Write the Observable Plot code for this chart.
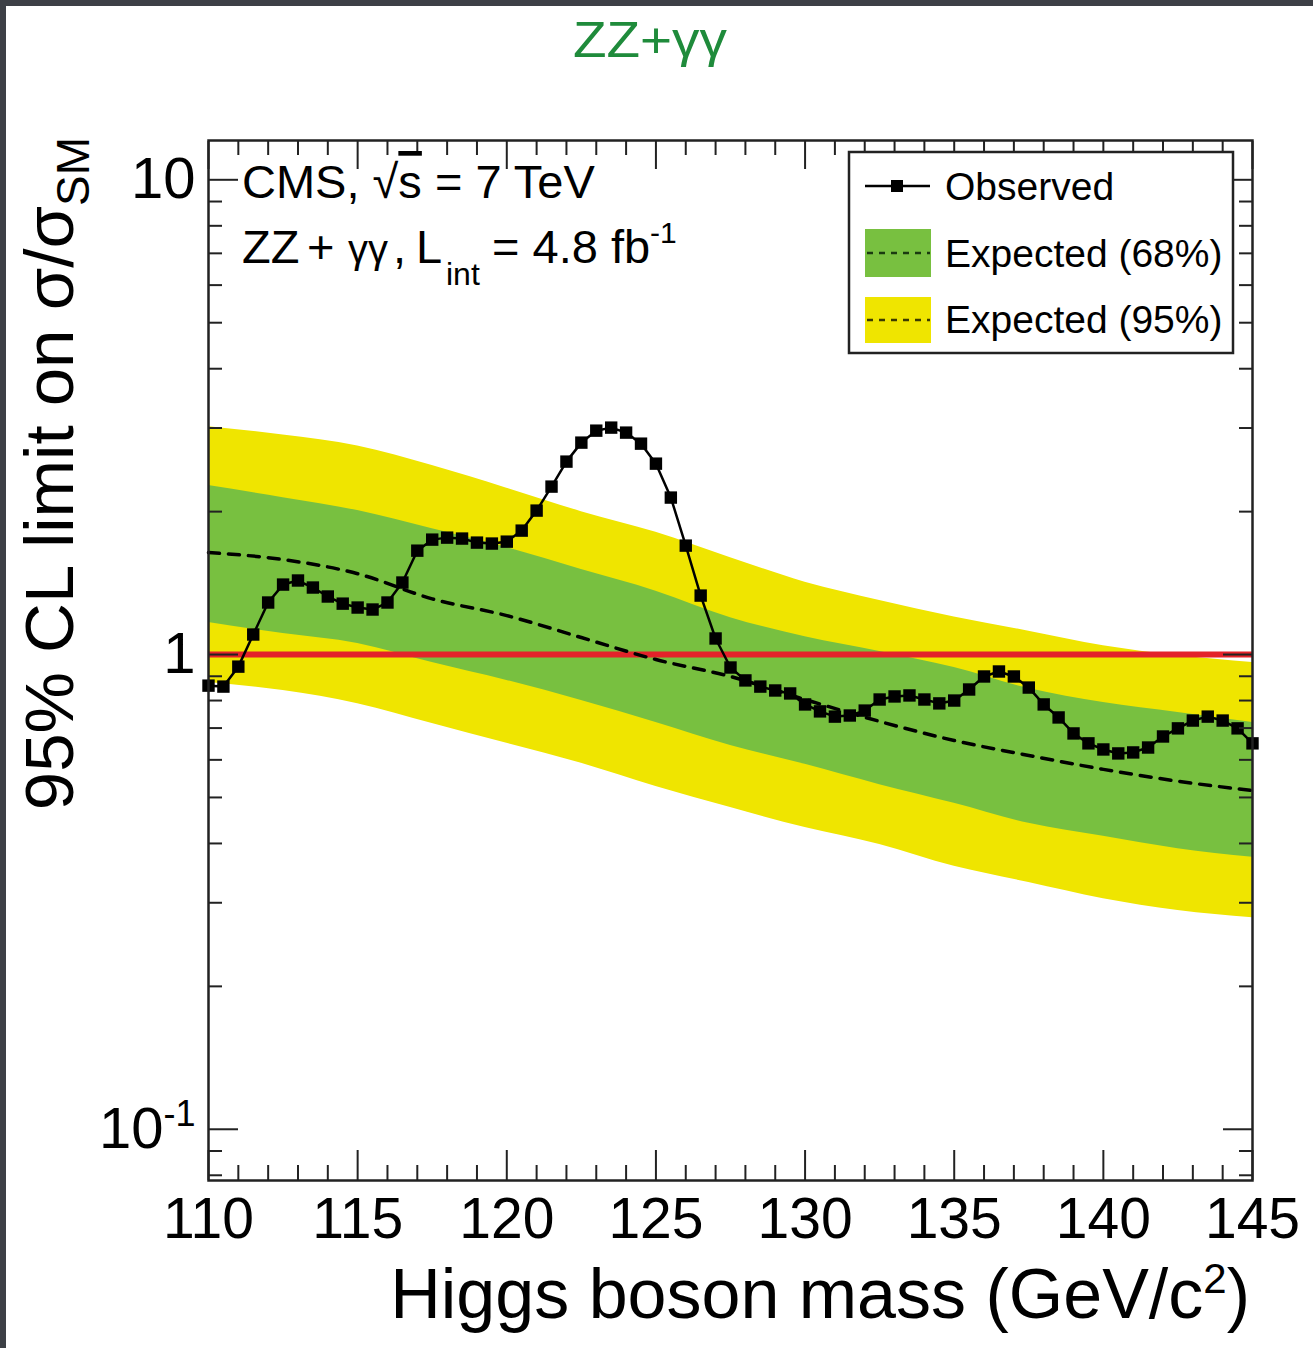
<!DOCTYPE html>
<html>
<head>
<meta charset="utf-8">
<script src="https://cdn.jsdelivr.net/npm/d3@7"></script>
<script src="https://cdn.jsdelivr.net/npm/@observablehq/plot@0.6"></script>
<style>
  html, body { margin: 0; padding: 0; }
  body { width: 1313px; height: 1348px; background: #3d4046; position: relative; overflow: hidden; }
  #page { position: absolute; left: 6px; top: 6px; right: 0; bottom: 0; background: #ffffff; }
  #chart { position: absolute; left: 0; top: 0; }
</style>
</head>
<body>
<div id="page"></div>
<div id="chart"></div>
<script>
// ---------------- data ----------------
const titleText = "ZZ+γγ";

const obsMass = [110,110.5,111,111.5,112,112.5,113,113.5,114,114.5,
                 115,115.5,116,116.5,117,117.5,118,118.5,119,119.5,
                 120,120.5,121,121.5,122,122.5,123,123.5,124,124.5,
                 125,125.5,126,126.5,127,127.5,128,128.5,129,129.5,
                 130,130.5,131,131.5,132,132.5,133,133.5,134,134.5,
                 135,135.5,136,136.5,137,137.5,138,138.5,139,139.5,
                 140,140.5,141,141.5,142,142.5,143,143.5,144,144.5,145];
const obsLimit = [0.860,0.856,0.943,1.102,1.287,1.404,1.432,1.384,1.325,1.280,
                  1.256,1.244,1.287,1.418,1.655,1.746,1.763,1.755,1.721,1.713,
                  1.729,1.824,2.010,2.258,2.549,2.795,2.962,3.006,2.934,2.781,
                  2.524,2.141,1.696,1.331,1.081,0.939,0.882,0.856,0.840,0.828,
                  0.785,0.759,0.740,0.744,0.762,0.804,0.816,0.820,0.804,0.789,
                  0.800,0.844,0.899,0.921,0.899,0.852,0.785,0.737,0.682,0.650,
                  0.631,0.619,0.622,0.637,0.672,0.699,0.726,0.740,0.726,0.699,0.650];

const expMass   = [110,112.5,115,117.5,120,122.5,125,127.5,130,132.5,135,137.5,140,142.5,145];
const expMedian = [1.64,1.585,1.48,1.31,1.208,1.086,0.976,0.899,0.804,0.723,0.659,0.613,0.573,0.541,0.517];
const exp68Hi   = [2.27,2.14,2.01,1.84,1.68,1.51,1.36,1.196,1.09,1.015,0.939,0.848,0.792,0.755,0.719];
const exp68Lo   = [1.168,1.107,1.055,0.962,0.882,0.80,0.719,0.643,0.587,0.532,0.486,0.441,0.414,0.39,0.374];
const exp95Hi   = [3.02,2.90,2.75,2.50,2.24,2.00,1.81,1.60,1.42,1.30,1.20,1.12,1.044,0.995,0.962];
const exp95Lo   = [0.873,0.84,0.788,0.716,0.65,0.59,0.527,0.476,0.432,0.398,0.358,0.331,0.306,0.289,0.279];

const smLine = [1];

const xMajorTicks = [110,115,120,125,130,135,140,145];
const xMinorTicks = [111,112,113,114,116,117,118,119,121,122,123,124,126,127,128,129,
                     131,132,133,134,136,137,138,139,141,142,143,144];
const yMajorTicks = [0.1,1,10];
const yMajorLabels = ["10_", "1", "10"];
const yMinorTicks = [0.08,0.09,0.2,0.3,0.4,0.5,0.6,0.7,0.8,0.9,2,3,4,5,6,7,8,9];

const legendLabels = ["Observed", "Expected (68%)", "Expected (95%)"];

// ---------------- styles ----------------
const YELLOW = "#efe500";
const GREEN = "#78c040";
const RED = "#e3232a";
const FONT = "'Liberation Sans', Arial, Helvetica, sans-serif";

const obs = obsMass.map((m, i) => ({m, v: obsLimit[i]}));
const exp = expMass.map((m, i) => ({m, med: expMedian[i], lo68: exp68Lo[i], hi68: exp68Hi[i], lo95: exp95Lo[i], hi95: exp95Hi[i]}));

const tickStyle = {fill: "none", label: null, stroke: "#222", strokeWidth: 2};

const svgNode = Plot.plot({
  width: 1313,
  height: 1348,
  marginLeft: 208,
  marginRight: 61,
  marginTop: 140,
  marginBottom: 168,
  style: {background: "transparent", fontFamily: FONT, color: "#000", overflow: "visible"},
  x: {domain: [110, 145]},
  y: {type: "log", domain: [0.078, 12.1]},
  marks: [
    Plot.areaY(exp, {x: "m", y1: "lo95", y2: "hi95", fill: YELLOW, curve: "monotone-x"}),
    Plot.areaY(exp, {x: "m", y1: "lo68", y2: "hi68", fill: GREEN, curve: "monotone-x"}),
    Plot.ruleY(smLine, {stroke: RED, strokeWidth: 6}),
    Plot.line(exp, {x: "m", y: "med", stroke: "#000", strokeWidth: 3.5, strokeDasharray: "11,9", curve: "monotone-x"}),
    Plot.line(obs, {x: "m", y: "v", stroke: "#000", strokeWidth: 2.5}),
    Plot.dot(obs, {x: "m", y: "v", symbol: "square", r: 7, fill: "#000"}),
    // inward ticks
    Plot.axisX(xMinorTicks, {anchor: "bottom", tickSize: -15, ...tickStyle}),
    Plot.axisX(xMajorTicks, {anchor: "bottom", tickSize: -30, ...tickStyle}),
    Plot.axisX(xMinorTicks, {anchor: "top", tickSize: -14, ...tickStyle}),
    Plot.axisX(xMajorTicks, {anchor: "top", tickSize: -28, ...tickStyle}),
    Plot.axisY(yMinorTicks, {anchor: "left", tickSize: -14, ...tickStyle}),
    Plot.axisY(yMajorTicks, {anchor: "left", tickSize: -30, ...tickStyle}),
    Plot.axisY(yMinorTicks, {anchor: "right", tickSize: -14, ...tickStyle}),
    Plot.axisY(yMajorTicks, {anchor: "right", tickSize: -30, ...tickStyle}),
    // tick labels
    Plot.axisX(xMajorTicks, {anchor: "bottom", tickSize: 0, tickPadding: 17, fontSize: 57, label: null, tickFormat: d => String(d)}),
    Plot.axisY(yMajorTicks, {anchor: "left", tickSize: 0, tickPadding: 13, fontSize: 58, label: null,
      tickFormat: d => yMajorLabels[yMajorTicks.indexOf(d)]}),
    Plot.frame({stroke: "#222", strokeWidth: 2.5})
  ]
});
document.getElementById("chart").appendChild(svgNode);

// ---------------- text decorations ----------------
const svg = d3.select(svgNode);

// superscript for 10^-1
svg.selectAll("text").each(function() {
  if (this.textContent === "10_") {
    const t = d3.select(this);
    t.text("10");
    t.append("tspan").attr("font-size", 36).attr("dy", "-0.6em").text("-1");
  }
});

const T = svg.append("g").attr("font-family", FONT).attr("fill", "#000").attr("text-anchor", "start");

// title
T.append("text")
  .attr("x", 573).attr("y", 57)
  .attr("textLength", 154).attr("lengthAdjust", "spacingAndGlyphs")
  .attr("font-family", "'Liberation Sans Narrow', 'Liberation Sans', sans-serif")
  .attr("font-size", 50).attr("fill", "#1f8b3b")
  .text(titleText);

// CMS label
const t1 = T.append("text").attr("x", 242).attr("y", 198).attr("font-size", 47);
t1.append("tspan").text("CMS, √");
t1.append("tspan").attr("text-decoration", "overline").text("s");
t1.append("tspan").text(" = 7 TeV");

const t2 = T.append("text").attr("y", 263).attr("font-size", 47);
t2.append("tspan").attr("x", 242).text("ZZ");
t2.append("tspan").attr("x", 307).text("+");
t2.append("tspan").attr("x", 348).attr("font-size", 40).text("γγ");
t2.append("tspan").attr("x", 393).text(",");
t2.append("tspan").attr("x", 416).text("L");
t2.append("tspan").attr("x", 446).attr("dy", 22).attr("font-size", 32).text("int");
t2.append("tspan").attr("x", 492).attr("dy", -22).text("= 4.8 fb");
t2.append("tspan").attr("dy", -20).attr("font-size", 30).text("-1");

// legend
const L = T.append("g");
L.append("rect").attr("x", 849).attr("y", 152).attr("width", 384).attr("height", 201)
  .attr("fill", "#fff").attr("stroke", "#222").attr("stroke-width", 2.5);
L.append("line").attr("x1", 865).attr("x2", 930).attr("y1", 186).attr("y2", 186)
  .attr("stroke", "#000").attr("stroke-width", 2.5);
L.append("rect").attr("x", 891).attr("y", 180).attr("width", 12).attr("height", 12).attr("fill", "#000");
L.append("rect").attr("x", 865).attr("y", 229).attr("width", 66).attr("height", 48).attr("fill", GREEN);
L.append("line").attr("x1", 867).attr("x2", 930).attr("y1", 253).attr("y2", 253)
  .attr("stroke", "#1a3a10").attr("stroke-width", 2.5).attr("stroke-dasharray", "6,6");
L.append("rect").attr("x", 865).attr("y", 297).attr("width", 66).attr("height", 46).attr("fill", YELLOW);
L.append("line").attr("x1", 867).attr("x2", 930).attr("y1", 320).attr("y2", 320)
  .attr("stroke", "#3a3a00").attr("stroke-width", 2.5).attr("stroke-dasharray", "6,6");
[200, 267, 333].forEach((y, i) => {
  L.append("text").attr("x", 945).attr("y", y).attr("font-size", 39).text(legendLabels[i]);
});

// axis titles
const yt = T.append("text")
  .attr("transform", "translate(73,137) rotate(-90)")
  .attr("text-anchor", "end").attr("font-size", 69);
yt.append("tspan").text("95% CL limit on σ/σ");
yt.append("tspan").attr("font-size", 46).attr("dy", 16).text("SM");

const xt = T.append("text").attr("x", 1250).attr("y", 1318)
  .attr("text-anchor", "end").attr("font-size", 70);
xt.append("tspan").text("Higgs boson mass (GeV/c");
xt.append("tspan").attr("font-size", 42).attr("dy", -25).text("2");
xt.append("tspan").attr("dy", 25).text(")");
</script>
</body>
</html>
